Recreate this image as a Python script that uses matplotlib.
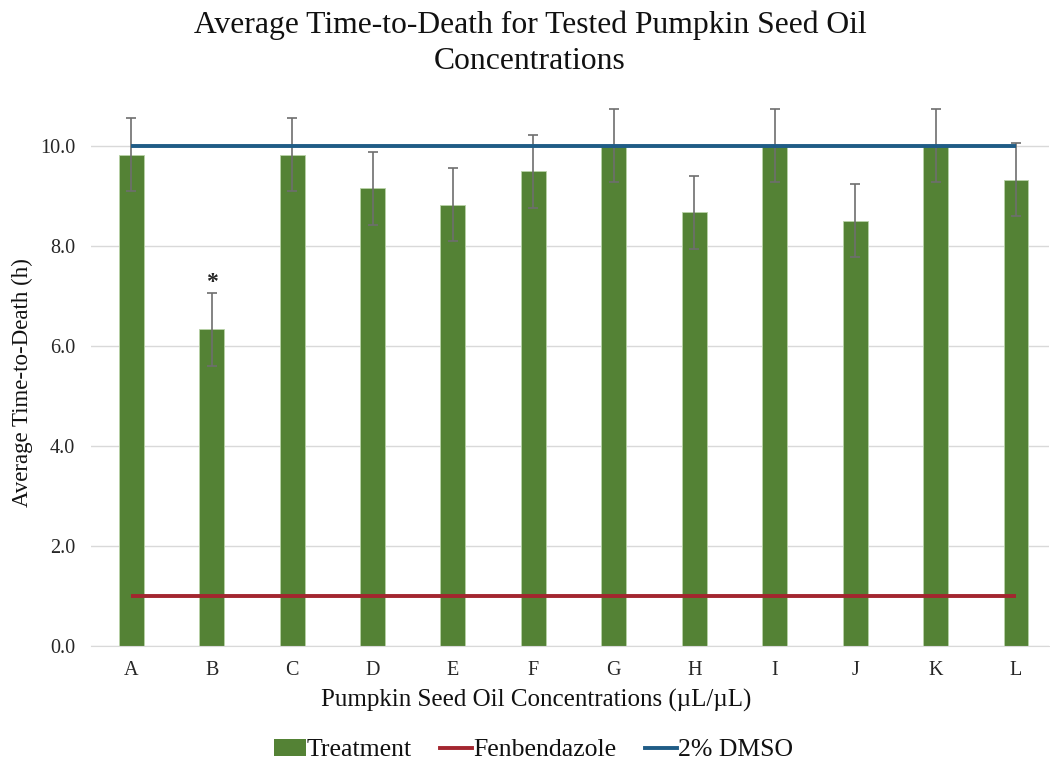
import matplotlib
matplotlib.use("Agg")
import matplotlib.pyplot as plt
from matplotlib.patches import Patch
from matplotlib.lines import Line2D

plt.rcParams['font.family'] = ['Liberation Serif', 'DejaVu Serif']

categories = ['A', 'B', 'C', 'D', 'E', 'F', 'G', 'H', 'I', 'J', 'K', 'L']
treatment = [9.82, 6.33, 9.82, 9.15, 8.82, 9.49, 10.0, 8.67, 10.0, 8.50, 10.0, 9.32]
errors = [0.73, 0.73, 0.73, 0.73, 0.73, 0.73, 0.73, 0.73, 0.73, 0.73, 0.73, 0.73]
fenbendazole = 1.0
dmso = 10.0
yticks = [0.0, 2.0, 4.0, 6.0, 8.0, 10.0]

W, H = 1050, 766
fig = plt.figure(figsize=(W / 100, H / 100), dpi=100)
left, right, bottom, top = 91, 1049, 646, 105.5
ax = fig.add_axes([left / W, 1 - bottom / H, (right - left) / W, (bottom - top) / H])

x = list(range(len(categories)))
green = '#548235'
red = '#A3262F'
blue = '#1F5C86'

ax.bar(x, treatment, width=0.31, color=green, edgecolor='#B9D3A8', linewidth=0.6, zorder=2)
ax.errorbar(x, treatment, yerr=errors, fmt='none', ecolor='#6E6E6E', elinewidth=1.2,
            capsize=3.5, capthick=1.2, zorder=3)
ax.plot([x[0], x[-1]], [fenbendazole, fenbendazole], color=red, lw=2.8, zorder=4,
        solid_capstyle='butt')
ax.plot([x[0], x[-1]], [dmso, dmso], color=blue, lw=2.8, zorder=4, solid_capstyle='butt')

ax.text(x[1], treatment[1] + errors[1] + 0.2, '*', ha='center', va='center',
        fontsize=17, fontweight='bold', color='#262626')

ax.set_xlim(-0.5, 11.41)
ax.set_ylim(0, 10.8)
ax.set_yticks(yticks)
ax.set_yticklabels([f'{v:.1f}' for v in yticks], fontsize=14.5, color='#262626')
ax.set_xticks(x)
ax.set_xticklabels(categories, fontsize=14.5, color='#262626')
ax.tick_params(axis='y', length=0, pad=11.5)
ax.tick_params(axis='x', length=0, pad=11)
ax.grid(axis='y', color='#D9D9D9', lw=1, zorder=0)
ax.set_axisbelow(True)
for s in ['top', 'right', 'left']:
    ax.spines[s].set_visible(False)
ax.spines['bottom'].set_color('#D9D9D9')

fig.text(536 / W, 1 - 700 / H, 'Pumpkin Seed Oil Concentrations (µL/µL)', ha='center',
         va='center', fontsize=18, color='#111111')
fig.text(22 / W, 1 - 383 / H, 'Average Time-to-Death (h)', ha='center', va='center',
         rotation=90, fontsize=16.5, color='#111111')
fig.text(530 / W, 1 - 43 / H, 'Average Time-to-Death for Tested Pumpkin Seed Oil\nConcentrations',
         ha='center', va='center', fontsize=22.8, linespacing=1.3, color='#111111')

handles = [Patch(facecolor=green, edgecolor='none'),
           Line2D([0], [0], color=red, lw=2.8),
           Line2D([0], [0], color=blue, lw=2.8)]
fig.legend(handles, ['Treatment', 'Fenbendazole', '2% DMSO'], loc='center',
           bbox_to_anchor=(533.5 / W, 1 - 750 / H), ncol=3, frameon=False, fontsize=18.5,
           handlelength=1.25, handletextpad=0.05, columnspacing=1.1,
           labelcolor='#111111', borderpad=0)

fig.savefig('out.png', dpi=100, facecolor='white')
